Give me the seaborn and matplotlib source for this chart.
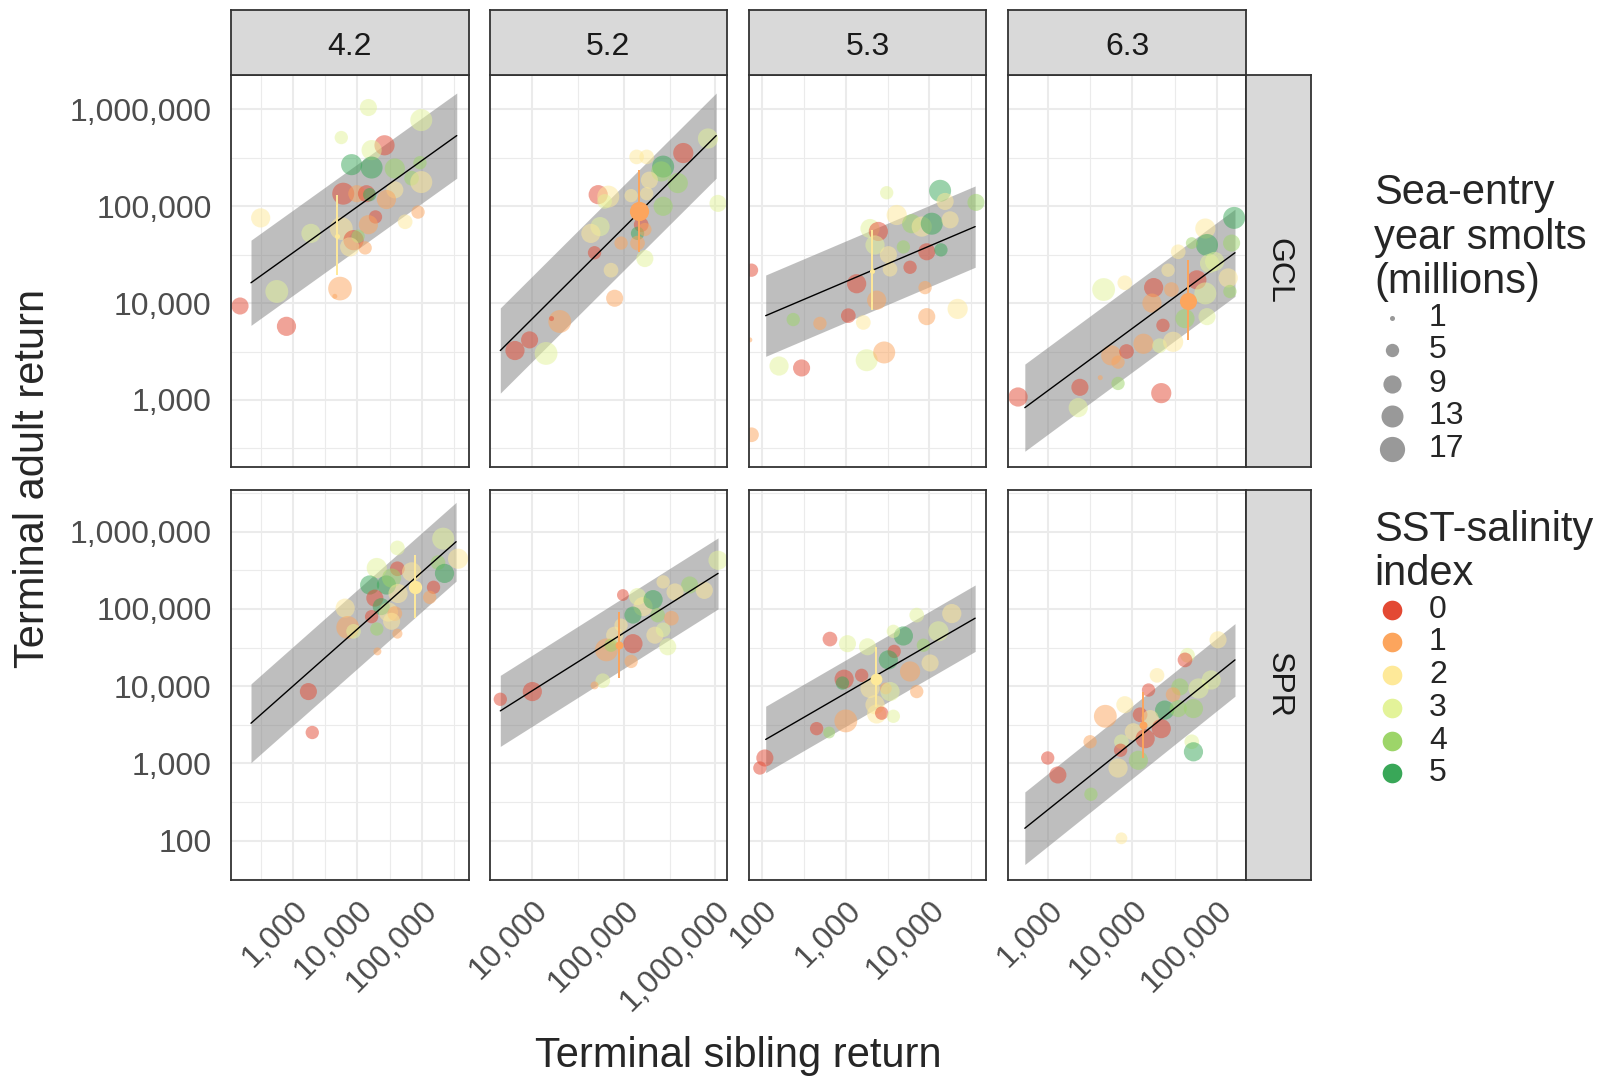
import numpy as np
import pandas as pd
import matplotlib
matplotlib.use("Agg")
import matplotlib.pyplot as plt
from matplotlib.ticker import NullFormatter
import seaborn as sns

sns.set_theme(style="white")
plt.rcParams["font.family"] = ["Liberation Sans", "DejaVu Sans"]

stocks = ["GCL", "SPR"]
ages = ["4.2", "5.2", "5.3", "6.3"]

# values: log10 sibling return, log10 adult return,
# sea-entry year smolts (millions), SST-salinity index
gcl_42_sib = [4.17, 4.99, 3.75, 4.42, 4.22, 3.91, 4.22, 4.58, 4.97, 4.84, 4.99, 3.78, 3.99, 4.14, 4.19, 4.58, 4.45,
              4.94, 2.50, 4.74, 4.28, 4.17, 3.75, 3.28, 3.94, 4.01, 3.88, 4.12, 2.75, 3.73, 3.65, 2.18, 2.90]
gcl_42_adult = [6.02, 5.89, 5.71, 5.63, 5.58, 5.43, 5.40, 5.39, 5.45, 5.29, 5.25, 5.13, 5.13, 5.13, 5.12, 5.17, 5.07,
                4.94, 4.88, 4.84, 4.89, 4.81, 4.77, 4.72, 4.65, 4.69, 4.58, 4.57, 4.12, 4.15, 4.07, 3.97, 3.76]
gcl_42_smolts = [8, 13, 5, 11, 11, 12, 13, 11, 5, 6, 13, 13, 8, 8, 5, 8, 10, 5, 10, 6, 5, 10, 14, 10, 11, 5, 10, 5,
                 14, 15, 1, 8, 10]
gcl_42_sst = [3, 3, 3, 0, 3, 5, 5, 4, 4, 4, 2, 0, 1, 0, 5, 2, 1, 1, 2, 2, 0, 1, 2, 3, 0, 4, 2, 1, 3, 1, 1, 0, 0]

gcl_52_sib = [5.92, 5.65, 5.14, 5.25, 5.43, 5.41, 5.59, 5.28, 4.72, 4.83, 4.79, 5.08, 5.25, 5.43, 6.03, 5.19, 5.15,
              5.23, 4.74, 4.64, 4.97, 5.15, 4.68, 5.23, 4.86, 4.90, 4.30, 4.21, 3.97, 3.81, 4.15]
gcl_52_adult = [5.70, 5.55, 5.51, 5.51, 5.41, 5.36, 5.24, 5.27, 5.12, 5.10, 5.05, 5.11, 5.13, 5.00, 5.03, 4.81, 4.72,
                4.76, 4.79, 4.72, 4.62, 4.62, 4.52, 4.46, 4.34, 4.05, 3.81, 3.84, 3.62, 3.51, 3.48]
gcl_52_smolts = [11, 11, 6, 6, 13, 11, 11, 8, 10, 13, 6, 5, 5, 10, 8, 6, 5, 5, 10, 10, 5, 6, 5, 8, 6, 8, 14, 1, 8,
                 10, 14]
gcl_52_sst = [3, 0, 2, 2, 5, 4, 4, 2, 0, 2, 3, 2, 2, 4, 3, 0, 5, 1, 3, 2, 1, 1, 0, 3, 2, 1, 1, 0, 0, 0, 3]

gcl_53_sib = [4.13, 3.49, 4.19, 4.56, 3.61, 3.29, 3.39, 3.79, 3.91, 4.03, 4.25, 3.35, 3.69, 3.51, 3.97, 4.14, 3.53,
              3.77, 1.87, 3.13, 3.37, 3.95, 3.03, 2.69, 2.37, 3.21, 3.97, 4.34, 2.20, 2.47, 3.25, 3.46, 1.87, 1.85]
gcl_53_adult = [5.16, 5.14, 5.05, 5.04, 4.91, 4.77, 4.74, 4.82, 4.79, 4.82, 4.86, 4.60, 4.58, 4.50, 4.53, 4.55, 4.35,
                4.37, 4.34, 4.20, 4.03, 4.16, 3.87, 3.79, 3.83, 3.80, 3.86, 3.94, 3.35, 3.33, 3.41, 3.49, 2.64, 3.62]
gcl_53_smolts = [13, 5, 8, 8, 11, 10, 10, 10, 11, 13, 8, 10, 5, 8, 8, 5, 6, 5, 5, 10, 10, 5, 6, 5, 5, 6, 8, 11, 10,
                 8, 13, 13, 6, 1]
gcl_53_sst = [5, 3, 2, 4, 2, 3, 0, 4, 2, 5, 2, 3, 4, 2, 0, 5, 2, 0, 0, 0, 1, 1, 0, 1, 4, 2, 1, 2, 3, 0, 3, 1, 1, 1]

gcl_63_sib = [4.86, 4.88, 4.70, 4.54, 4.97, 4.42, 4.76, 4.25, 4.46, 3.91, 3.66, 4.86, 4.23, 4.62, 4.88, 4.36, 4.13,
              4.32, 4.48, 3.75, 3.93, 3.83, 3.62, 3.83, 3.38, 4.34, 2.65, 3.36, 5.20, 5.17, 5.13, 4.91, 5.15]
gcl_63_adult = [4.77, 4.60, 4.62, 4.53, 4.43, 4.34, 4.24, 4.16, 4.14, 4.21, 4.14, 4.10, 4.00, 3.84, 3.86, 3.77, 3.58,
                3.56, 3.60, 3.46, 3.50, 3.39, 3.23, 3.17, 3.13, 3.07, 3.03, 2.92, 4.88, 4.62, 4.26, 4.41, 4.12]
gcl_63_smolts = [11, 13, 4, 6, 10, 5, 10, 10, 6, 6, 14, 13, 10, 10, 8, 5, 11, 6, 11, 11, 6, 5, 1, 5, 8, 11, 10, 10,
                 13, 8, 10, 10, 5]
gcl_63_sst = [2, 5, 4, 2, 3, 2, 0, 0, 1, 2, 3, 3, 1, 4, 3, 0, 1, 3, 2, 1, 0, 1, 1, 4, 0, 0, 0, 3, 5, 4, 2, 3, 4]

spr_42_sib = [5.33, 4.62, 5.56, 4.30, 4.62, 4.84, 5.25, 5.35, 4.19, 4.45, 4.53, 4.27, 4.63, 4.37, 4.48, 4.58, 3.81,
              4.22, 3.85, 3.94, 4.30, 4.53, 4.62, 5.18, 5.12, 4.31, 3.24, 3.30]
spr_42_adult = [5.91, 5.79, 5.65, 5.53, 5.52, 5.48, 5.60, 5.46, 5.31, 5.31, 5.40, 5.14, 5.20, 5.03, 4.96, 4.94, 5.01,
                4.90, 4.76, 4.71, 4.74, 4.84, 4.68, 5.28, 5.15, 4.45, 3.93, 3.40]
spr_42_smolts = [13, 6, 11, 11, 6, 10, 6, 10, 10, 10, 10, 8, 10, 8, 10, 6, 10, 5, 14, 6, 5, 8, 3, 5, 5, 2, 8, 5]
spr_42_sst = [3, 3, 2, 3, 0, 2, 4, 5, 5, 5, 4, 0, 2, 5, 2, 1, 2, 0, 1, 3, 4, 2, 1, 0, 1, 1, 0, 0]

spr_52_sib = [6.03, 5.72, 5.56, 5.88, 5.43, 4.99, 5.15, 5.21, 5.32, 5.10, 5.37, 5.52, 4.97, 4.90, 5.34, 5.43, 5.10,
              4.81, 4.86, 5.48, 5.08, 4.77, 4.68, 4.00, 3.65]
spr_52_adult = [5.63, 5.31, 5.22, 5.24, 5.35, 5.18, 5.16, 5.03, 5.12, 4.92, 4.92, 4.88, 4.79, 4.66, 4.66, 4.73, 4.55,
                4.47, 4.53, 4.51, 4.32, 4.07, 4.01, 3.93, 3.83]
spr_52_smolts = [10, 8, 8, 8, 5, 4, 8, 10, 10, 8, 6, 6, 5, 8, 8, 6, 10, 14, 5, 8, 5, 6, 2, 10, 5]
spr_52_sst = [3, 4, 2, 2, 2, 0, 3, 2, 5, 5, 4, 1, 2, 2, 2, 3, 0, 1, 4, 3, 1, 3, 1, 0, 0]

spr_53_sib = [4.27, 3.85, 4.11, 3.69, 3.57, 3.93, 4.01, 2.81, 3.02, 3.26, 3.58, 3.51, 3.77, 2.98, 2.96, 3.19, 3.29,
              3.48, 3.53, 3.85, 3.35, 3.37, 3.43, 3.57, 3.00, 2.65, 2.80, 2.03, 1.97]
spr_53_adult = [4.94, 4.92, 4.71, 4.65, 4.71, 4.53, 4.30, 4.61, 4.55, 4.51, 4.45, 4.34, 4.19, 4.09, 4.04, 4.14, 3.97,
                3.97, 3.93, 3.93, 3.76, 3.64, 3.65, 3.61, 3.55, 3.45, 3.40, 3.07, 2.94]
spr_53_smolts = [10, 6, 11, 10, 5, 5, 8, 6, 8, 8, 5, 10, 11, 10, 5, 5, 10, 4, 10, 5, 10, 10, 5, 5, 14, 5, 4, 8, 5]
spr_53_sst = [2, 3, 3, 5, 3, 4, 2, 0, 3, 3, 0, 5, 1, 0, 5, 0, 2, 1, 3, 1, 2, 2, 0, 3, 1, 0, 4, 0, 0]

spr_63_sib = [5.01, 4.65, 4.62, 4.29, 4.19, 4.56, 4.78, 4.93, 4.48, 4.38, 4.54, 4.72, 3.91, 3.68, 4.09, 4.21, 4.34,
              4.01, 4.15, 3.87, 3.86, 4.70, 4.72, 3.50, 4.07, 3.83, 3.00, 3.12, 3.51, 3.87]
spr_63_adult = [4.60, 4.40, 4.34, 4.14, 3.95, 3.99, 3.97, 4.08, 3.89, 3.69, 3.71, 3.71, 3.76, 3.61, 3.63, 3.58, 3.45,
                3.41, 3.32, 3.28, 3.17, 3.28, 3.15, 3.28, 3.04, 2.94, 3.07, 2.85, 2.60, 2.03]
spr_63_smolts = [8, 6, 6, 6, 5, 8, 11, 10, 6, 10, 8, 10, 8, 14, 6, 8, 10, 8, 10, 6, 5, 6, 10, 5, 10, 10, 5, 8, 5, 4]
spr_63_sst = [2, 3, 0, 2, 0, 4, 3, 3, 1, 5, 4, 4, 2, 1, 0, 2, 0, 2, 0, 3, 0, 3, 5, 1, 4, 2, 0, 0, 4, 2]

# forecast year point + interval, panels in order GCL 4.2..6.3, SPR 4.2..6.3 (log10)
fc_sib = [3.68, 5.17, 3.31, 4.66, 4.89, 4.95, 3.36, 4.12]
fc_adult = [4.69, 4.95, 4.33, 4.02, 5.28, 4.53, 4.09, 3.50]
fc_lo = [4.29, 4.53, 3.93, 3.62, 4.88, 4.10, 3.73, 3.07]
fc_hi = [5.12, 5.37, 4.76, 4.45, 5.70, 4.96, 4.51, 3.93]
fc_smolts = [1, 10, 1, 8, 5, 2, 4, 2]
fc_sst = [2, 1, 2, 1, 2, 1, 2, 1]

# fitted line ends and interval half width (log10)
fit_x0 = [2.35, 3.65, 2.04, 2.73, 2.35, 3.65, 2.04, 2.73]
fit_x1 = [5.54, 6.01, 4.55, 5.21, 5.53, 6.03, 4.55, 5.21]
fit_y0 = [4.21, 3.51, 3.87, 2.92, 3.52, 3.68, 3.31, 2.16]
fit_y1 = [5.73, 5.73, 4.79, 4.52, 5.87, 5.46, 4.88, 4.34]
fit_band = [0.44, 0.44, 0.42, 0.45, 0.51, 0.46, 0.43, 0.47]

panel_data = {
    ("GCL", "4.2"): (gcl_42_sib, gcl_42_adult, gcl_42_smolts, gcl_42_sst),
    ("GCL", "5.2"): (gcl_52_sib, gcl_52_adult, gcl_52_smolts, gcl_52_sst),
    ("GCL", "5.3"): (gcl_53_sib, gcl_53_adult, gcl_53_smolts, gcl_53_sst),
    ("GCL", "6.3"): (gcl_63_sib, gcl_63_adult, gcl_63_smolts, gcl_63_sst),
    ("SPR", "4.2"): (spr_42_sib, spr_42_adult, spr_42_smolts, spr_42_sst),
    ("SPR", "5.2"): (spr_52_sib, spr_52_adult, spr_52_smolts, spr_52_sst),
    ("SPR", "5.3"): (spr_53_sib, spr_53_adult, spr_53_smolts, spr_53_sst),
    ("SPR", "6.3"): (spr_63_sib, spr_63_adult, spr_63_smolts, spr_63_sst),
}

size_levels = [1, 5, 9, 13, 17]
sst_levels = [0, 1, 2, 3, 4, 5]
pal = dict(zip(sst_levels, sns.color_palette("RdYlGn", 6)))
SIZES = (13, 330)
SIZE_NORM = (1, 17)

# layout (pixels)
W, H = 1604, 1079
col_px = [(231, 469), (489.7, 727), (749, 986), (1008.3, 1246)]
row_px = [(75, 467), (490, 880)]
strip_top = (10, 75)
strip_right = (1246, 1311)
col_lim = [(2.04, 5.73), (3.534, 6.128), (1.84, 4.68), (2.535, 5.34)]
row_lim = [(2.307, 6.356), (1.49, 6.54)]
col_major = [[3, 4, 5], [4, 5, 6], [2, 3, 4], [3, 4, 5]]
row_major = [[3, 4, 5, 6], [2, 3, 4, 5, 6]]

BORDER = "#333333"
GRID = "#EBEBEB"
TICK_FS = 23
TITLE_FS = 30


def rect(x0, x1, y0, y1):
    return [x0 / W, 1 - y1 / H, (x1 - x0) / W, (y1 - y0) / H]


def half_decades(lo, hi):
    return [10 ** (k + 0.5) for k in range(int(np.floor(lo)) - 1, int(np.ceil(hi)) + 1)
            if lo <= k + 0.5 <= hi]


fig = plt.figure(figsize=(W / 100, H / 100), dpi=100)

for r, stock in enumerate(stocks):
    for c, age in enumerate(ages):
        i = r * 4 + c
        sib, adult, smolts, sst = panel_data[(stock, age)]
        df = pd.DataFrame({"sib": 10 ** np.array(sib), "adult": 10 ** np.array(adult),
                           "smolts": smolts, "sst": sst})
        ax = fig.add_axes(rect(*col_px[c], *row_px[r]))
        ax.set_xscale("log")
        ax.set_yscale("log")

        # prediction band and fitted line
        bx = 10 ** np.array([fit_x0[i], fit_x1[i]])
        by = np.array([fit_y0[i], fit_y1[i]])
        ax.fill_between(bx, 10 ** (by - fit_band[i]), 10 ** (by + fit_band[i]),
                        color="#7f7f7f", alpha=0.5, lw=0, zorder=1)

        sns.scatterplot(data=df, x="sib", y="adult", hue="sst", size="smolts", palette=pal,
                        sizes=SIZES, size_norm=SIZE_NORM, alpha=0.5, linewidth=0,
                        legend=False, ax=ax, zorder=2)
        ax.plot(bx, 10 ** by, color="black", lw=1.0, zorder=3)

        # forecast year
        fc_col = pal[fc_sst[i]]
        ax.vlines(10 ** fc_sib[i], 10 ** fc_lo[i], 10 ** fc_hi[i], color=fc_col, lw=1.4, zorder=4)
        fc = pd.DataFrame({"sib": [10 ** fc_sib[i]], "adult": [10 ** fc_adult[i]],
                           "smolts": [fc_smolts[i]], "sst": [fc_sst[i]]})
        sns.scatterplot(data=fc, x="sib", y="adult", hue="sst", size="smolts", palette=pal,
                        sizes=SIZES, size_norm=SIZE_NORM, alpha=1, linewidth=0,
                        legend=False, ax=ax, zorder=5)

        xlo, xhi = col_lim[c]
        ylo, yhi = row_lim[r]
        ax.set_xlim(10 ** xlo, 10 ** xhi)
        ax.set_ylim(10 ** ylo, 10 ** yhi)
        ax.set_xticks([10 ** k for k in col_major[c]], [f"{10 ** k:,}" for k in col_major[c]])
        ax.set_yticks([10 ** k for k in row_major[r]], [f"{10 ** k:,}" for k in row_major[r]])
        ax.set_xticks(half_decades(xlo, xhi), minor=True)
        ax.set_yticks(half_decades(ylo, yhi), minor=True)
        ax.xaxis.set_minor_formatter(NullFormatter())
        ax.yaxis.set_minor_formatter(NullFormatter())
        ax.set_xlabel("")
        ax.set_ylabel("")

        ax.grid(True, which="major", color=GRID, lw=1.5)
        ax.grid(True, which="minor", color=GRID, lw=0.8)
        ax.set_axisbelow(True)
        ax.set_facecolor("white")
        for s in ax.spines.values():
            s.set_color(BORDER)
            s.set_linewidth(1.3)

        ax.tick_params(which="minor", length=0)
        ax.tick_params(axis="y", which="major", length=5 if c == 0 else 0, width=1.1, color=BORDER,
                       labelsize=TICK_FS, labelcolor="#4D4D4D", pad=9, labelleft=(c == 0))
        ax.tick_params(axis="x", which="major", length=5 if r == 1 else 0, width=1.1, color=BORDER,
                       labelsize=TICK_FS, labelcolor="#4D4D4D", pad=6, labelbottom=(r == 1))
        if r == 1:
            for lab in ax.get_xticklabels():
                lab.set_rotation(45)
                lab.set_ha("right")
                lab.set_va("top")
                lab.set_rotation_mode("anchor")

# facet strips
for c, age in enumerate(ages):
    sax = fig.add_axes(rect(*col_px[c], *strip_top))
    sax.set_facecolor("#D9D9D9")
    sax.set_xticks([])
    sax.set_yticks([])
    for s in sax.spines.values():
        s.set_color(BORDER)
        s.set_linewidth(1.3)
    sax.text(0.5, 0.43, age, ha="center", va="center", fontsize=TICK_FS, color="#1A1A1A",
             transform=sax.transAxes)
for r, stock in enumerate(stocks):
    sax = fig.add_axes(rect(*strip_right, *row_px[r]))
    sax.set_facecolor("#D9D9D9")
    sax.set_xticks([])
    sax.set_yticks([])
    for s in sax.spines.values():
        s.set_color(BORDER)
        s.set_linewidth(1.3)
    sax.text(0.5, 0.5, stock, ha="center", va="center", rotation=-90, fontsize=TICK_FS,
             color="#1A1A1A", transform=sax.transAxes)

# axis titles
fig.text(738 / W, 1 - 1056 / H, "Terminal sibling return", ha="center", va="center", fontsize=TITLE_FS)
fig.text(33 / W, 1 - 478 / H, "Terminal adult return", ha="center", va="center", rotation=90,
         fontsize=TITLE_FS)

# legends
lax = fig.add_axes([0, 0, 1, 1])
lax.set_xlim(0, W)
lax.set_ylim(H, 0)
lax.axis("off")
lax.patch.set_alpha(0)

for txt, y in zip(["Sea-entry", "year smolts", "(millions)"], [193, 238, 282]):
    lax.text(1374, y, txt, ha="left", va="center", fontsize=TITLE_FS)
size_y = [318, 350, 384, 416, 449]
for v, y in zip(size_levels, size_y):
    s = SIZES[0] + (v - SIZE_NORM[0]) / (SIZE_NORM[1] - SIZE_NORM[0]) * (SIZES[1] - SIZES[0])
    lax.scatter([1392], [y], s=s, color="#999999", linewidth=0)
    lax.text(1429, y, str(v), ha="left", va="center", fontsize=TICK_FS)

for txt, y in zip(["SST-salinity", "index"], [530, 574]):
    lax.text(1374, y, txt, ha="left", va="center", fontsize=TITLE_FS)
sst_y = [610, 642, 675, 708, 741, 773]
for v, y in zip(sst_levels, sst_y):
    lax.scatter([1392], [y], s=200, color=pal[v], linewidth=0)
    lax.text(1429, y, str(v), ha="left", va="center", fontsize=TICK_FS)

fig.savefig("out.png", dpi=100)
